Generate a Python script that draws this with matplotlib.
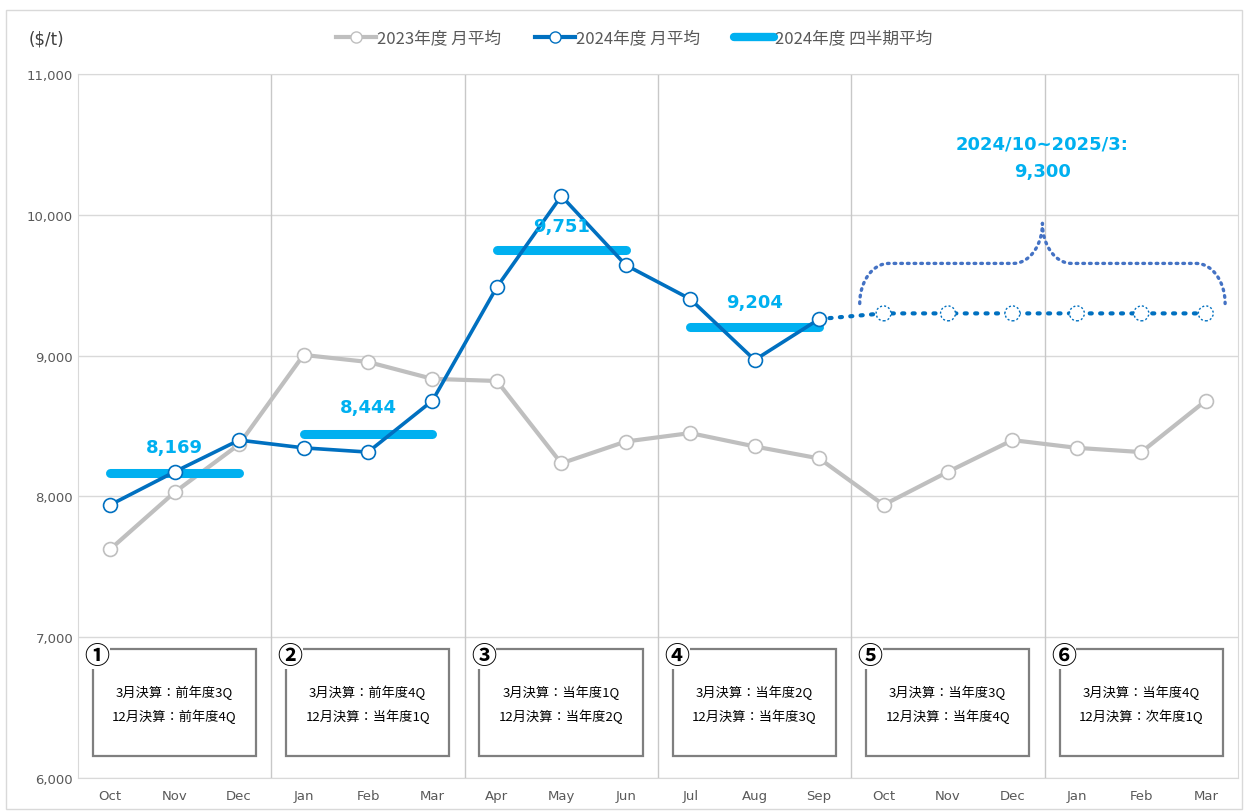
import matplotlib.pyplot as plt
from matplotlib.lines import Line2D
from matplotlib.patches import Rectangle
import numpy as np

plt.rcParams['font.family'] = ['DejaVu Sans', 'Noto Sans CJK JP']
JP = ['Noto Sans CJK JP', 'DejaVu Sans']

# data
months = ['Oct', 'Nov', 'Dec', 'Jan', 'Feb', 'Mar', 'Apr', 'May', 'Jun',
          'Jul', 'Aug', 'Sep', 'Oct', 'Nov', 'Dec', 'Jan', 'Feb', 'Mar']
fy2023 = [7625, 8030, 8370, 9005, 8955, 8835, 8820, 8235, 8390,
          8450, 8355, 8270, 7940, 8175, 8400, 8345, 8315, 8680]
fy2024 = [7940, 8175, 8400, 8345, 8315, 8680, 9487, 10134, 9643,
          9402, 8969, 9260]
q_avg = [8169, 8444, 9751, 9204]
forecast = 9300
forecast_label = '2024/10~2025/3:\n9,300'
box_nums = ['①', '②', '③', '④', '⑤', '⑥']
box_lines = [('3月決算：前年度3Q', '12月決算：前年度4Q'),
             ('3月決算：前年度4Q', '12月決算：当年度1Q'),
             ('3月決算：当年度1Q', '12月決算：当年度2Q'),
             ('3月決算：当年度2Q', '12月決算：当年度3Q'),
             ('3月決算：当年度3Q', '12月決算：当年度4Q'),
             ('3月決算：当年度4Q', '12月決算：次年度1Q')]

GRAY = '#BFBFBF'
BLUE = '#0070C0'
LBLUE = '#00B0F0'
BRACE = '#4472C4'

fig = plt.figure(figsize=(12.48, 8.12), dpi=100)
ax = fig.add_axes([0.0625, 0.0406, 0.9295, 0.867])
fig.patches.append(Rectangle((0.005, 0.003), 0.99, 0.984, transform=fig.transFigure,
                             fill=False, edgecolor='#D9D9D9', lw=1))

x = np.arange(len(months))
ax.set_xlim(-0.5, len(months) - 0.5)
ax.set_ylim(6000, 11000)

# grid
for v in range(6000, 11001, 1000):
    ax.axhline(v, color='#D9D9D9', lw=1, zorder=0)
for q in range(1, 6):
    ax.axvline(q * 3 - 0.5, color='#C8C8C8', lw=1, zorder=0)
for s in ax.spines.values():
    s.set_color('#D9D9D9')

# 2023 series
ax.plot(x, fy2023, color=GRAY, lw=3, marker='o', ms=10, mfc='white',
        mec=GRAY, mew=1.2, zorder=3)

# 2024 series
x24 = x[:len(fy2024)]
ax.plot(x24, fy2024, color=BLUE, lw=2.6, marker='o', ms=10, mfc='white',
        mec=BLUE, mew=1.2, zorder=5)

# forecast dotted line + dotted hollow markers
xf = x[len(fy2024):]
ax.plot([x24[-1]] + list(xf), [fy2024[-1]] + [forecast] * len(xf), color=BLUE,
        lw=3, ls=(0, (0.5, 2.0)), dash_capstyle='round', zorder=4)
ax.scatter(xf, [forecast] * len(xf), s=115, facecolor='white', edgecolor=BLUE,
           linewidths=1.0, linestyle=(0, (1.5, 1.5)), zorder=6)

# quarter averages
for i, qv in enumerate(q_avg):
    ax.plot([i * 3, i * 3 + 2], [qv, qv], color=LBLUE, lw=6.5,
            solid_capstyle='round', zorder=4)
label_y = [8169 + 185, 8444 + 190, 9751 + 170, 9204 + 180]
for i, qv in enumerate(q_avg):
    ax.text(i * 3 + 1, label_y[i], f'{qv:,}', color=LBLUE, fontsize=13,
            fontweight='bold', ha='center', va='center', zorder=7)

# brace over forecast period
x0, x1 = xf[0] - 0.37, xf[-1] + 0.3
xm = (x0 + x1) / 2
yb, yf, yt = forecast + 70, forecast + 355, forecast + 640
t = np.linspace(0, np.pi / 2, 20)
left_c = np.c_[x0 + 0.45 * (1 - np.cos(t)), yb + (yf - yb) * np.sin(t)]
mid_l = np.c_[xm - 0.45 + 0.45 * np.sin(t), yf + (yt - yf) * (1 - np.cos(t))]
mid_r = np.c_[xm + 0.45 * (1 - np.cos(t)), yt - (yt - yf) * np.sin(t)]
right_c = np.c_[x1 - 0.45 + 0.45 * np.sin(t), yf - (yf - yb) * (1 - np.cos(t))]
pts = np.vstack([left_c, mid_l, mid_r, right_c])
ax.plot(pts[:, 0], pts[:, 1], color=BRACE, lw=2.4, ls=(0, (0.5, 1.5)),
        dash_capstyle='round', zorder=4)
ax.text(xm, 10410, forecast_label, color=LBLUE, fontsize=13, fontweight='bold',
        ha='center', va='center', linespacing=1.7, zorder=7)

# quarter boxes
for i in range(6):
    bx0, bx1 = i * 3 - 0.27, i * 3 + 2.26
    ax.add_patch(Rectangle((bx0, 6160), bx1 - bx0, 6915 - 6160, fill=False,
                           edgecolor='#7F7F7F', lw=1.6, zorder=3))
    ax.text(bx0 + 0.06, 6865, box_nums[i], family=JP, fontsize=18,
            fontweight='bold', ha='center', va='center', color='black', zorder=6,
            bbox=dict(boxstyle='square,pad=0.02', fc='white', ec='none'))
    cx = (bx0 + bx1) / 2
    ax.text(cx, 6610, box_lines[i][0], family=JP, fontsize=9.5, ha='center',
            va='center', color='black', zorder=6)
    ax.text(cx, 6445, box_lines[i][1], family=JP, fontsize=9.5, ha='center',
            va='center', color='black', zorder=6)

# axes ticks
ax.set_xticks(x)
ax.set_xticklabels(months)
ax.set_yticks(range(6000, 11001, 1000))
ax.set_yticklabels([f'{v:,}' for v in range(6000, 11001, 1000)])
ax.tick_params(length=0, colors='#595959', labelsize=9.5)
ax.tick_params(axis='x', pad=8)
fig.text(0.037, 0.951, '($/t)', fontsize=12, color='#404040', ha='center', va='center')

handles = [
    Line2D([], [], color=GRAY, lw=3, marker='o', ms=8, mfc='white', mec=GRAY),
    Line2D([], [], color=BLUE, lw=3, marker='o', ms=8, mfc='white', mec=BLUE),
    Line2D([], [], color=LBLUE, lw=6, solid_capstyle='round'),
]
fig.legend(handles, ['2023年度 月平均', '2024年度 月平均', '2024年度 四半期平均'],
           loc='center', bbox_to_anchor=(0.508, 0.952), ncol=3, frameon=False,
           prop={'family': JP, 'size': 12}, labelcolor='#595959',
           handlelength=2.4, handletextpad=0.1, columnspacing=2.0)

fig.savefig('out.png', dpi=100)
